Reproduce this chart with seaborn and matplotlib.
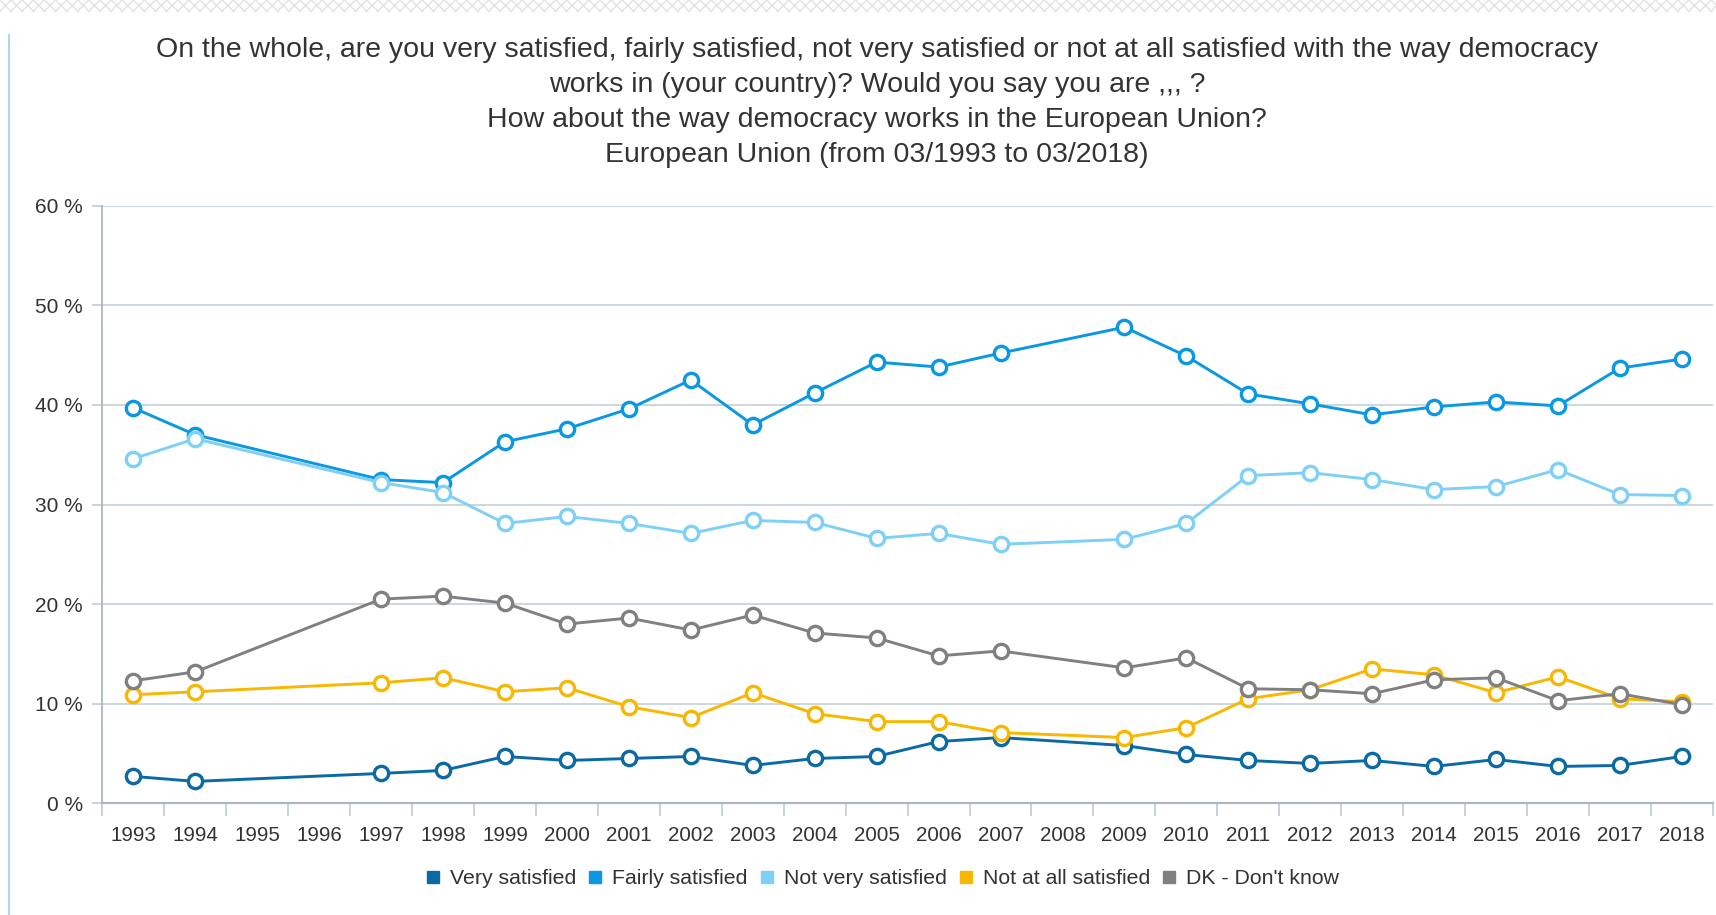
import matplotlib
matplotlib.use("Agg")
import matplotlib.pyplot as plt
import seaborn as sns
import pandas as pd
import numpy as np
from matplotlib.lines import Line2D
from matplotlib.patches import Rectangle

# ---------------- data ----------------
survey_years = [1993, 1994, 1997, 1998, 1999, 2000, 2001, 2002, 2003, 2004, 2005, 2006,
                2007, 2009, 2010, 2011, 2012, 2013, 2014, 2015, 2016, 2017, 2018]

very_satisfied = [2.7, 2.2, 3.0, 3.3, 4.7, 4.3, 4.5, 4.7, 3.8, 4.5, 4.7, 6.2,
                  6.6, 5.8, 4.9, 4.3, 4.0, 4.3, 3.7, 4.4, 3.7, 3.8, 4.7]
fairly_satisfied = [39.7, 37.0, 32.5, 32.2, 36.3, 37.6, 39.6, 42.5, 38.0, 41.2, 44.3, 43.8,
                    45.2, 47.8, 44.9, 41.1, 40.1, 39.0, 39.8, 40.3, 39.9, 43.7, 44.6]
not_very_satisfied = [34.6, 36.6, 32.2, 31.2, 28.1, 28.8, 28.1, 27.1, 28.4, 28.2, 26.6, 27.1,
                      26.0, 26.5, 28.1, 32.9, 33.2, 32.5, 31.5, 31.8, 33.5, 31.0, 30.9]
not_at_all_satisfied = [10.9, 11.2, 12.1, 12.6, 11.2, 11.6, 9.7, 8.6, 11.1, 9.0, 8.2, 8.2,
                        7.1, 6.6, 7.6, 10.5, 11.4, 13.5, 12.9, 11.1, 12.7, 10.5, 10.2]
dont_know = [12.3, 13.2, 20.5, 20.8, 20.1, 18.0, 18.6, 17.4, 18.9, 17.1, 16.6, 14.8,
             15.3, 13.6, 14.6, 11.5, 11.4, 11.0, 12.4, 12.6, 10.3, 11.0, 9.9]

series_names = ["Very satisfied", "Fairly satisfied", "Not very satisfied",
                "Not at all satisfied", "DK - Don't know"]
series_values = [very_satisfied, fairly_satisfied, not_very_satisfied,
                 not_at_all_satisfied, dont_know]
series_colors = ["#0b69a3", "#0a98e3", "#7fd0f6", "#f8b700", "#808080"]

axis_years = list(range(1993, 2019))
y_ticks = [0, 10, 20, 30, 40, 50, 60]

title_lines = [
    "On the whole, are you very satisfied, fairly satisfied, not very satisfied or not at all satisfied with the way democracy",
    "works in (your country)? Would you say you are ,,, ?",
    "How about the way democracy works in the European Union?",
    "European Union (from 03/1993 to 03/2018)",
]

# ---------------- figure ----------------
sns.set_theme(style="white")
plt.rcParams['font.family'] = ['Liberation Sans', 'DejaVu Sans']

W, H = 1716, 915
fig = plt.figure(figsize=(W / 100, H / 100), dpi=100)
fig.patch.set_facecolor("white")

left, right, top, bottom = 102.4, 1712.8, 205.7, 803.3
ax = fig.add_axes([left / W, 1 - bottom / H, (right - left) / W, (bottom - top) / H])

df = pd.DataFrame({
    "year": np.tile(survey_years, len(series_names)),
    "value": np.concatenate(series_values),
    "series": np.repeat(series_names, len(survey_years)),
})

for i, (name, color) in enumerate(zip(series_names, series_colors)):
    sub = df[df["series"] == name]
    sns.lineplot(data=sub, x="year", y="value", ax=ax, color=color, linewidth=2.1,
                 marker="o", markersize=10.3, markerfacecolor="white",
                 markeredgecolor=color, markeredgewidth=2.4, legend=False,
                 zorder=3 + i, errorbar=None)

ax.set_xlim(1992.5, 2018.5)
ax.set_ylim(0, 60)
ax.set_xlabel("")
ax.set_ylabel("")

ax.set_xticks(axis_years)
ax.set_xticklabels([str(y) for y in axis_years])
ax.set_xticks(np.arange(1992.5, 2019, 1.0), minor=True)
ax.tick_params(axis="x", which="major", length=0, labelsize=14.8, labelcolor="#333333", pad=16)
ax.tick_params(axis="x", which="minor", length=9, width=1.3, color="#c4cfd8", bottom=True)

ax.set_yticks(y_ticks)
ax.set_yticklabels([f"{v} %" for v in y_ticks])
ax.tick_params(axis="y", which="major", length=7, width=1.3, color="#c4cfd8",
               labelsize=15, labelcolor="#333333", pad=7, left=True)

ax.yaxis.grid(True, color="#cdd6de", linewidth=1.4)
ax.xaxis.grid(False)
ax.set_axisbelow(True)

for side in ["top", "right"]:
    ax.spines[side].set_visible(False)
ax.spines["left"].set_color("#aab8c2")
ax.spines["left"].set_linewidth(1.3)
ax.spines["bottom"].set_color("#aab8c2")
ax.spines["bottom"].set_linewidth(1.6)

# title
title_y = [50.3, 85.4, 120.4, 155.4]
for line, ty in zip(title_lines, title_y):
    fig.text(877 / W, 1 - ty / H, line, ha="center", va="center",
             fontsize=20.5, color="#333333")

# legend
handles = [Line2D([], [], marker="s", linestyle="", color=c, markersize=8.5)
           for c in series_colors]
leg = fig.legend(handles, series_names, loc="center", bbox_to_anchor=(881 / W, 1 - 879 / H),
                 ncol=5, frameon=False, fontsize=15.3, handletextpad=0.35,
                 columnspacing=0.45, handlelength=0.9)
for t in leg.get_texts():
    t.set_color("#333333")

# page decorations
fig.add_artist(Rectangle((0, 1 - 12 / H), 1, 12 / H, transform=fig.transFigure,
                         facecolor="white", edgecolor="#e2e2e2", hatch="xxx", linewidth=0))
fig.add_artist(Line2D([9 / W, 9 / W], [0, 1 - 35 / H], transform=fig.transFigure,
                      color="#b3d3ea", linewidth=1.5))

fig.savefig("out.png", dpi=100, facecolor="white")
